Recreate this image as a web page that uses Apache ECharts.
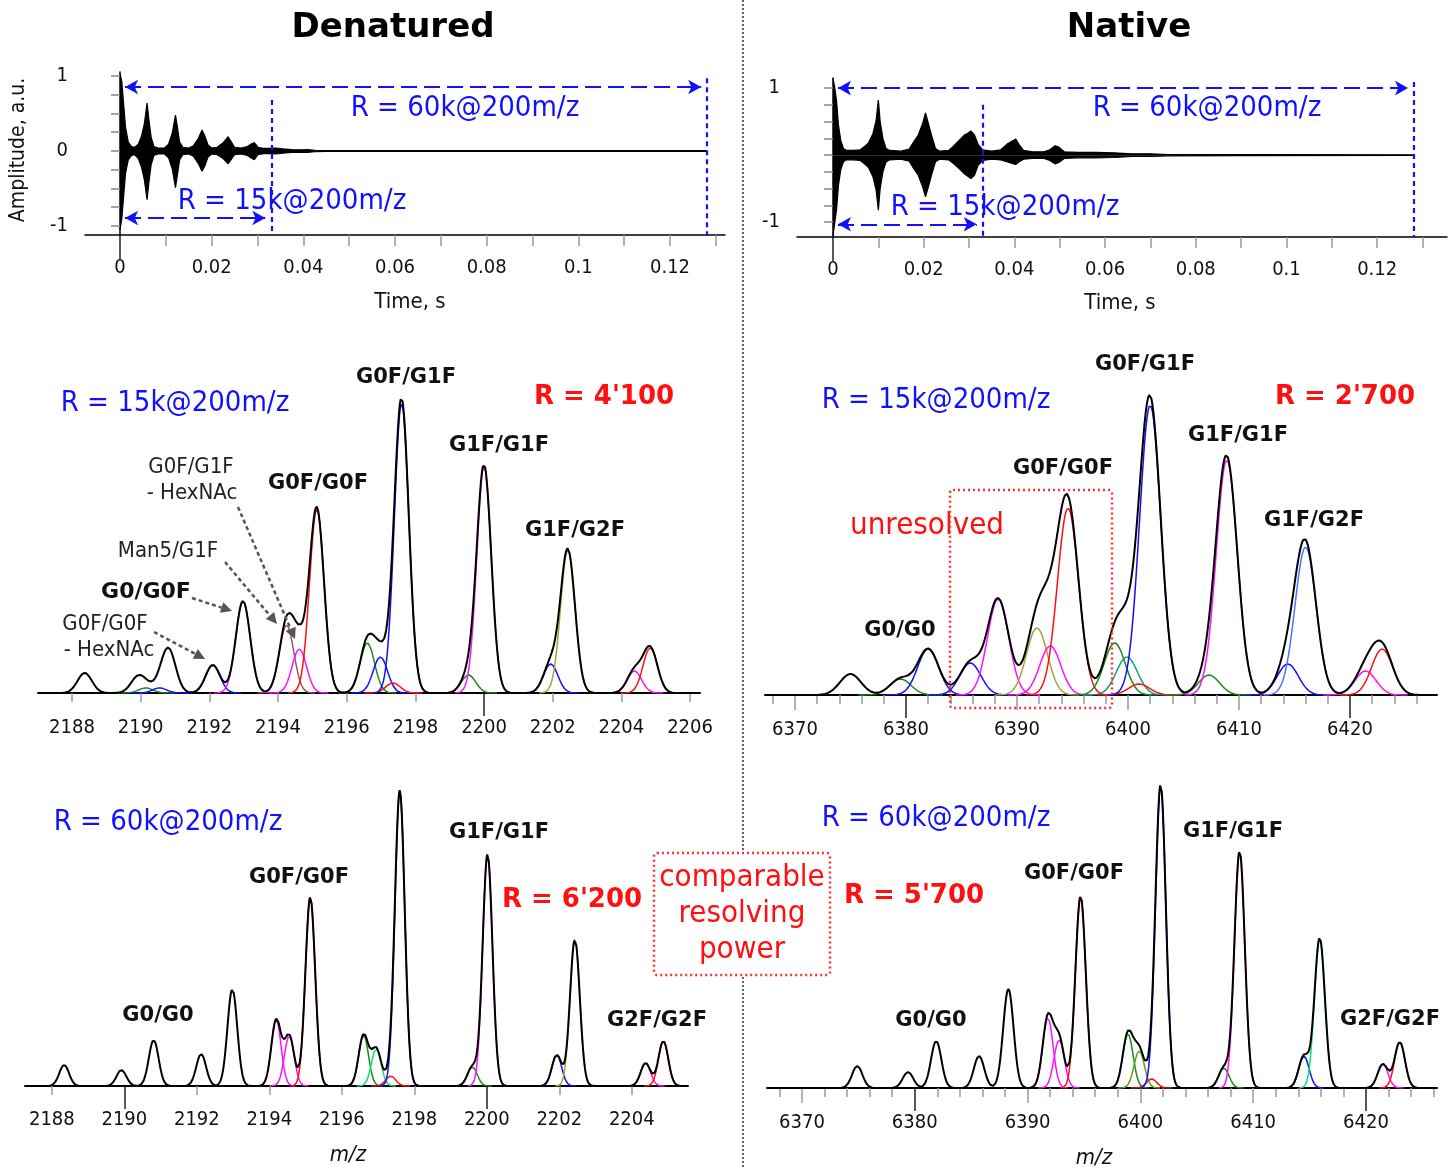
<!DOCTYPE html>
<html>
<head>
<meta charset="utf-8">
<title>Denatured vs Native</title>
<script src="https://cdn.jsdelivr.net/npm/echarts@6/dist/echarts.min.js"></script>
<style>
  html, body { margin: 0; padding: 0; background: #fff; }
  #chart { width: 1456px; height: 1168px; }
</style>
</head>
<body>
<div id="chart"></div>
<script>
// ---- transients: envelope of the signal, [time s, amplitude] ----
const denUpper = [[0, 1.03], [0.0004, 0.92], [0.0008, 0.62], [0.0012, 0.32], [0.0018, 0.12], [0.0025, 0.06], [0.0032, 0.05], [0.004, 0.09], [0.0047, 0.2], [0.0053, 0.36], [0.0059, 0.64], [0.0063, 0.42], [0.0068, 0.18], [0.0074, 0.06], [0.0083, 0.04], [0.0097, 0.04], [0.0106, 0.09], [0.0114, 0.24], [0.0121, 0.48], [0.0125, 0.33], [0.013, 0.12], [0.0137, 0.05], [0.015, 0.04], [0.016, 0.07], [0.0171, 0.17], [0.0179, 0.28], [0.0185, 0.2], [0.0192, 0.08], [0.02, 0.04], [0.0212, 0.05], [0.0225, 0.11], [0.0236, 0.19], [0.0243, 0.12], [0.025, 0.05], [0.0264, 0.04], [0.0278, 0.06], [0.0288, 0.1], [0.0293, 0.11], [0.0301, 0.05], [0.0313, 0.035], [0.0325, 0.035], [0.034, 0.04], [0.0355, 0.03], [0.0375, 0.018], [0.0395, 0.015], [0.041, 0.018], [0.0425, 0.01], [0.045, 0.006], [0.128, 0.004]]
const denLower = [[0, -1.05], [0.0004, -0.9], [0.0008, -0.6], [0.0012, -0.3], [0.0018, -0.12], [0.0025, -0.06], [0.0032, -0.05], [0.004, -0.1], [0.0047, -0.22], [0.0053, -0.38], [0.0059, -0.65], [0.0063, -0.42], [0.0068, -0.18], [0.0074, -0.06], [0.0083, -0.04], [0.0097, -0.04], [0.0106, -0.09], [0.0114, -0.24], [0.0121, -0.49], [0.0125, -0.33], [0.013, -0.12], [0.0137, -0.05], [0.015, -0.04], [0.016, -0.07], [0.0171, -0.17], [0.0179, -0.27], [0.0185, -0.2], [0.0192, -0.08], [0.02, -0.04], [0.0212, -0.05], [0.0225, -0.1], [0.0236, -0.17], [0.0243, -0.11], [0.025, -0.05], [0.0264, -0.04], [0.0278, -0.06], [0.0288, -0.1], [0.0293, -0.115], [0.0301, -0.05], [0.0313, -0.035], [0.0325, -0.035], [0.034, -0.04], [0.0355, -0.03], [0.0375, -0.018], [0.0395, -0.015], [0.041, -0.018], [0.0425, -0.01], [0.045, -0.006], [0.128, -0.004]]
const natUpper = [[0, 1.14], [0.0004, 1.0], [0.0008, 0.8], [0.0012, 0.45], [0.0017, 0.22], [0.0023, 0.1], [0.003, 0.07], [0.0045, 0.07], [0.006, 0.08], [0.0068, 0.12], [0.0078, 0.18], [0.0088, 0.32], [0.0095, 0.52], [0.01, 0.82], [0.0104, 0.5], [0.011, 0.25], [0.0117, 0.1], [0.0125, 0.07], [0.015, 0.06], [0.0168, 0.09], [0.0178, 0.2], [0.0188, 0.3], [0.0198, 0.48], [0.0204, 0.63], [0.021, 0.48], [0.0218, 0.28], [0.0226, 0.1], [0.0235, 0.06], [0.0255, 0.07], [0.0265, 0.13], [0.0278, 0.22], [0.029, 0.3], [0.0298, 0.33], [0.0304, 0.36], [0.0312, 0.3], [0.032, 0.16], [0.033, 0.08], [0.035, 0.06], [0.037, 0.08], [0.0385, 0.17], [0.0398, 0.22], [0.0403, 0.24], [0.041, 0.16], [0.042, 0.07], [0.044, 0.05], [0.0465, 0.05], [0.0478, 0.08], [0.049, 0.14], [0.0498, 0.12], [0.051, 0.05], [0.054, 0.04], [0.058, 0.04], [0.062, 0.035], [0.066, 0.02], [0.07, 0.02], [0.074, 0.01], [0.09, 0.008], [0.128, 0.004]]
const natLower = [[0, -1.2], [0.0004, -1.0], [0.0008, -0.8], [0.0012, -0.45], [0.0017, -0.22], [0.0023, -0.1], [0.003, -0.07], [0.0045, -0.07], [0.006, -0.08], [0.0068, -0.12], [0.0078, -0.18], [0.0088, -0.32], [0.0095, -0.52], [0.01, -0.82], [0.0104, -0.5], [0.011, -0.25], [0.0117, -0.1], [0.0125, -0.07], [0.015, -0.06], [0.0168, -0.09], [0.0178, -0.2], [0.0188, -0.3], [0.0198, -0.48], [0.0204, -0.62], [0.021, -0.48], [0.0218, -0.28], [0.0226, -0.1], [0.0235, -0.06], [0.0255, -0.07], [0.0265, -0.12], [0.0278, -0.2], [0.029, -0.28], [0.0298, -0.32], [0.0304, -0.35], [0.0312, -0.3], [0.032, -0.15], [0.033, -0.08], [0.035, -0.06], [0.037, -0.07], [0.0385, -0.1], [0.0398, -0.13], [0.0403, -0.14], [0.041, -0.1], [0.042, -0.06], [0.044, -0.05], [0.0465, -0.05], [0.0478, -0.08], [0.049, -0.13], [0.0498, -0.11], [0.051, -0.05], [0.054, -0.04], [0.058, -0.04], [0.062, -0.035], [0.066, -0.02], [0.07, -0.02], [0.074, -0.01], [0.09, -0.008], [0.128, -0.004]]

// transient lengths (s)
const len15k = 0.033
const len60k = 0.128

// ---- spectra: fitted peaks (m/z, intensity, component colour) ----
const den15Mz = [2188.37, 2189.92, 2190.15, 2190.55, 2190.81, 2192.10, 2192.98, 2194.25, 2194.62, 2195.13, 2196.60, 2196.98, 2197.35, 2197.60, 2199.55, 2200.00, 2201.94, 2202.44, 2204.38, 2204.84]
const den15Int = [20, 15, 5, 5, 43, 28, 92, 68, 44, 184, 50, 36, 10, 290, 18, 227, 29, 143, 22, 45]
const den15Col = ['black', 'black', 'green', 'blue', 'black', 'blue', 'magenta', 'maroon', 'magenta', 'red', 'green', 'blue', 'red', 'blue', 'green', 'magenta', 'blue', 'olive', 'magenta', 'red']

const nat15Mz = [6375.0, 6379.5, 6382.0, 6385.8, 6388.3, 6391.8, 6393.0, 6394.6, 6398.8, 6399.9, 6401.0, 6402.0, 6407.3, 6408.9, 6414.4, 6416.0, 6421.4, 6422.9]
const nat15Int = [21, 16, 46, 32, 96, 67, 49, 187, 52, 38, 11, 290, 20, 235, 31, 148, 24, 46]
const nat15Col = ['black', 'green', 'blue', 'blue', 'magenta', 'olive', 'magenta', 'red', 'green', 'teal', 'red', 'blue', 'green', 'magenta', 'blue', 'lightblue', 'magenta', 'red']

const den60Mz = [2188.34, 2189.92, 2190.81, 2192.12, 2192.98, 2194.19, 2194.55, 2195.13, 2196.60, 2196.95, 2197.35, 2197.60, 2199.60, 2200.02, 2201.93, 2202.43, 2204.38, 2204.87]
const den60Int = [21, 16, 46, 32, 97, 66, 50, 189, 51, 37, 10, 294, 19, 232, 31, 147, 23, 45]
const den60Col = ['black', 'black', 'black', 'black', 'black', 'magenta', 'magenta', 'red', 'green', 'lime', 'red', 'blue', 'green', 'magenta', 'blue', 'olive', 'magenta', 'red']

const nat60Mz = [6374.9, 6379.4, 6381.9, 6385.7, 6388.3, 6391.8, 6392.8, 6394.7, 6398.9, 6399.9, 6401.0, 6401.8, 6407.4, 6408.8, 6414.5, 6415.9, 6421.5, 6423.0]
const nat60Int = [22, 16, 47, 32, 99, 70, 48, 192, 54, 37, 9, 302, 20, 237, 32, 150, 24, 46]
const nat60Col = ['black', 'black', 'black', 'black', 'black', 'magenta', 'magenta', 'red', 'green', 'olivegreen', 'red', 'blue', 'green', 'magenta', 'blue', 'lime', 'magenta', 'red']

// peak width (sigma, m/z) of each acquisition
const den15Sigma = 0.21
const nat15Sigma = 0.95
const den60Sigma = 0.135
const nat60Sigma = 0.46

// ---- tick labels ----
const timeLabels = [0, 0.02, 0.04, 0.06, 0.08, 0.1, 0.12]
const timeTicks = [0.01, 0.02, 0.03, 0.04, 0.05, 0.06, 0.07, 0.08, 0.09, 0.1, 0.11, 0.12, 0.13]
const ampTicks = [-1, -0.75, -0.5, -0.25, 0, 0.25, 0.5, 0.75, 1]
const denMzLabels15 = [2188, 2190, 2192, 2194, 2196, 2198, 2200, 2202, 2204, 2206]
const denMzLabels60 = [2188, 2190, 2192, 2194, 2196, 2198, 2200, 2202, 2204]
const natMzLabels = [6370, 6380, 6390, 6400, 6410, 6420]
const natMzMinor = [6368, 6372, 6374, 6376, 6378, 6382, 6384, 6386, 6388, 6392, 6394, 6396, 6398, 6402, 6404, 6406, 6408, 6412, 6414, 6416, 6418, 6422, 6424, 6426]

const palette = {
  black: '#000000',
  blue: '#1010ff',
  green: '#1b8a1b',
  magenta: '#ff10ff',
  red: '#ff1010',
  maroon: '#a0525a',
  olive: '#a8a040',
  teal: '#10a080',
  lime: '#10e070',
  lightblue: '#5070ff',
  olivegreen: '#60a020'
}

const FONT = "'DejaVu Sans', Verdana, sans-serif"
const FONT_C = "'DejaVu Sans Condensed', 'DejaVu Sans', sans-serif"

function sumCurve (mz, inten, sigma, from, to, step) {
  const pts = []
  const n = Math.round((to - from) / step)
  for (let k = 0; k <= n; k++) {
    const x = from + k * step
    let y = 0
    for (let i = 0; i < mz.length; i++) {
      const d = x - mz[i]
      y += inten[i] * Math.exp(-d * d / (2 * sigma * sigma))
    }
    pts.push([x, y])
  }
  return pts
}

const xAxes = []
const yAxes = []
const series = []

function tickAxis (gi, min, max, ticks, len, color, width) {
  xAxes.push({
    type: 'value', gridIndex: gi, min: min, max: max, position: 'bottom',
    axisLine: { show: false, onZero: false },
    axisTick: { show: true, customValues: ticks, length: len, lineStyle: { color: color, width: width } },
    axisLabel: { show: false },
    splitLine: { show: false }
  })
}

function mainXAxis (gi, min, max, labels, margin, lineWidth) {
  xAxes.push({
    type: 'value', gridIndex: gi, min: min, max: max, position: 'bottom',
    axisLine: { show: true, onZero: false, lineStyle: { color: '#000', width: lineWidth } },
    axisTick: { show: false },
    axisLabel: {
      show: true, customValues: labels, margin: margin, fontSize: 20, color: '#111', fontFamily: FONT_C,
      formatter: function (v) { return String(v) }
    },
    splitLine: { show: false }
  })
  return xAxes.length - 1
}

function spectrumPanel (gi, min, max, labels, grayTicks, longTicks, darkTicks, margin, mz, inten, col, sigma, step) {
  const xi = mainXAxis(gi, min, max, labels, margin, 2)
  if (grayTicks.length) tickAxis(gi, min, max, grayTicks, 9, '#999', 1.5)
  if (longTicks.length) tickAxis(gi, min, max, longTicks, 15, '#999', 1.5)
  if (darkTicks.length) tickAxis(gi, min, max, darkTicks, 23, '#222', 1.5)
  yAxes.push({ type: 'value', gridIndex: gi, min: 0, max: 310, show: false })
  const yi = yAxes.length - 1
  for (let i = 0; i < mz.length; i++) {
    if (col[i] === 'black') continue
    const pts = []
    const n = 80
    for (let k = 0; k <= n; k++) {
      const x = mz[i] - 4 * sigma + k * 8 * sigma / n
      const d = x - mz[i]
      pts.push([x, inten[i] * Math.exp(-d * d / (2 * sigma * sigma))])
    }
    series.push({
      type: 'line', xAxisIndex: xi, yAxisIndex: yi, data: pts, showSymbol: false, silent: true,
      lineStyle: { color: palette[col[i]], width: 1.5 }, z: 2
    })
  }
  series.push({
    type: 'line', xAxisIndex: xi, yAxisIndex: yi, data: sumCurve(mz, inten, sigma, min, max, step),
    showSymbol: false, silent: true, lineStyle: { color: '#000', width: 2 }, z: 3
  })
}

function transientPanel (gi, xmin, xmax, ymin, ymax, ampLabels, upper, lower, arrowTop, arrowBottom, topLine15, topLine60) {
  const xi = mainXAxis(gi, xmin, xmax, timeLabels, 23, 1.5)
  tickAxis(gi, xmin, xmax, timeTicks, 11, '#999', 1.5)
  tickAxis(gi, xmin, xmax, [0], 24, '#222', 1.5)
  yAxes.push({
    type: 'value', gridIndex: gi, min: ymin, max: ymax,
    axisLine: { show: true, lineStyle: { color: '#000', width: 1.5 } },
    axisTick: { show: true, customValues: ampTicks, length: 9, lineStyle: { color: '#888', width: 1.5 } },
    axisLabel: {
      show: true, customValues: ampLabels, margin: 17, fontSize: 20, color: '#111', fontFamily: FONT_C,
      formatter: function (v) { return String(v) }
    },
    splitLine: { show: false }
  })
  const yi = yAxes.length - 1
  const blue = { color: '#1010ff', width: 2.2 }
  series.push({
    type: 'line', xAxisIndex: xi, yAxisIndex: yi, data: upper, showSymbol: false, silent: true,
    lineStyle: { color: '#000', width: 1.2 }, areaStyle: { color: '#000', opacity: 1, origin: 0 },
    markLine: {
      silent: true, symbol: ['arrow', 'arrow'], symbolSize: [11, 13], label: { show: false },
      lineStyle: Object.assign({ type: [16, 7] }, blue),
      data: [
        [{ coord: [0.0011, arrowTop] }, { coord: [len60k - 0.0012, arrowTop] }],
        [{ coord: [0.0011, arrowBottom] }, { coord: [len15k - 0.0013, arrowBottom] }]
      ]
    }
  })
  series.push({
    type: 'line', xAxisIndex: xi, yAxisIndex: yi, data: lower, showSymbol: false, silent: true,
    lineStyle: { color: '#000', width: 1.2 }, areaStyle: { color: '#000', opacity: 1, origin: 0 },
    markLine: {
      silent: true, symbol: 'none', label: { show: false },
      lineStyle: Object.assign({ type: [5, 4] }, blue),
      data: [
        [{ coord: [len15k, topLine15] }, { coord: [len15k, ymin] }],
        [{ coord: [len60k, topLine60] }, { coord: [len60k, ymin] }]
      ]
    }
  })
}

// grids in layout order
const grids = [
  { left: 85, top: 72, width: 640, height: 163 },
  { left: 797, top: 78, width: 650, height: 159 },
  { left: 38, top: 383, width: 662, height: 310 },
  { left: 765, top: 385, width: 672, height: 310 },
  { left: 25, top: 776, width: 663, height: 310 },
  { left: 767, top: 778, width: 670, height: 310 }
]

transientPanel(0, -0.00764, 0.1320, -1.12, 1.053, [-1, 0, 1], denUpper, denLower, 0.853, -0.893, 0.68, 0.97)
transientPanel(1, -0.00794, 0.1354, -1.22, 1.15, [-1, 1], natUpper, natLower, 1.0, -1.03, 0.75, 1.09)
spectrumPanel(2, 2187.01, 2206.29, denMzLabels15, [2188, 2190, 2192, 2194, 2196, 2198, 2202, 2204, 2206], [], [2200], 25, den15Mz, den15Int, den15Col, den15Sigma, 0.02)
spectrumPanel(3, 6367.3, 6427.84, natMzLabels, natMzMinor, [6370, 6390, 6400, 6410], [6380, 6420], 25, nat15Mz, nat15Int, nat15Col, nat15Sigma, 0.1)
spectrumPanel(4, 2187.26, 2205.55, denMzLabels60, [2188, 2192, 2194, 2196, 2198, 2202, 2204], [], [2190, 2200], 24, den60Mz, den60Int, den60Col, den60Sigma, 0.015)
spectrumPanel(5, 6366.9, 6426.3, natMzLabels, natMzMinor, [6370, 6390, 6400, 6410], [6380, 6420], 25, nat60Mz, nat60Int, nat60Col, nat60Sigma, 0.05)

// ---- annotations ----
function txt (s, x, y, size, color, weight, extra, family) {
  const el = {
    type: 'text', x: x, y: y, silent: true, z: 10,
    style: { text: s, fill: color, align: 'center', verticalAlign: 'middle', font: (weight || 'normal') + ' ' + size + 'px ' + (family || FONT_C) }
  }
  return Object.assign(el, extra || {})
}

function bold (s, x, y, size, color) {
  return txt(s, x, y, size, color, 'bold', null, FONT)
}

function arrow (x1, y1, x2, y2) {
  const a = Math.atan2(y2 - y1, x2 - x1)
  const hl = 11
  const hw = 5.5
  const bx = x2 - hl * Math.cos(a)
  const by = y2 - hl * Math.sin(a)
  return [
    { type: 'line', silent: true, z: 10, shape: { x1: x1, y1: y1, x2: bx, y2: by }, style: { stroke: '#555', lineWidth: 2.5, lineDash: [4, 3] } },
    {
      type: 'polygon', silent: true, z: 10,
      shape: { points: [[x2, y2], [bx - hw * Math.sin(a), by + hw * Math.cos(a)], [bx + hw * Math.sin(a), by - hw * Math.cos(a)]] },
      style: { fill: '#555' }
    }
  ]
}

const blueC = '#1010ff'
const redC = '#ff1010'
const graphic = [
  bold('Denatured', 393, 28, 34, '#000'),
  bold('Native', 1129, 28, 34, '#000'),
  txt('Amplitude, a.u.', 19, 150, 21, '#111', 'normal', { rotation: Math.PI / 2 }),
  txt('Time, s', 410, 302, 22, '#111'),
  txt('Time, s', 1120, 303, 22, '#111'),
  txt('R = 60k@200m/z', 465, 108, 29, blueC),
  txt('R = 15k@200m/z', 292, 201, 29, blueC),
  txt('R = 60k@200m/z', 1207, 108, 29, blueC),
  txt('R = 15k@200m/z', 1005, 207, 29, blueC),

  bold('G0F/G1F', 406, 378, 21, '#111'),
  txt('R = 15k@200m/z', 175, 403, 29, blueC),
  bold("R = 4'100", 604, 397, 26, redC),
  bold('G1F/G1F', 499, 446, 21, '#111'),
  txt('G0F/G1F', 191, 467, 22, '#222'),
  txt('- HexNAc', 192, 493, 22, '#222'),
  bold('G0F/G0F', 318, 484, 21, '#111'),
  bold('G1F/G2F', 575, 531, 21, '#111'),
  txt('Man5/G1F', 168, 551, 22, '#222'),
  bold('G0/G0F', 146, 592, 22, '#111'),
  txt('G0F/G0F', 105, 624, 22, '#222'),
  txt('- HexNAc', 109, 650, 22, '#222'),

  bold('G0F/G1F', 1145, 365, 21, '#111'),
  txt('R = 15k@200m/z', 936, 400, 29, blueC),
  bold("R = 2'700", 1345, 397, 26, redC),
  bold('G1F/G1F', 1238, 436, 21, '#111'),
  bold('G0F/G0F', 1063, 469, 21, '#111'),
  bold('G1F/G2F', 1314, 521, 21, '#111'),
  bold('G0/G0', 900, 631, 21, '#111'),
  txt('unresolved', 927, 526, 31, redC),

  txt('R = 60k@200m/z', 168, 822, 29, blueC),
  bold('G1F/G1F', 499, 833, 21, '#111'),
  bold('G0F/G0F', 299, 878, 21, '#111'),
  bold("R = 6'200", 572, 900, 26, redC),
  bold('G0/G0', 158, 1016, 21, '#111'),
  bold('G2F/G2F', 657, 1021, 21, '#111'),
  txt('m/z', 348, 1155, 22, '#111', 'italic'),

  txt('R = 60k@200m/z', 936, 818, 29, blueC),
  bold('G1F/G1F', 1233, 832, 21, '#111'),
  bold("R = 5'700", 914, 896, 26, redC),
  bold('G0F/G0F', 1074, 874, 21, '#111'),
  bold('G0/G0', 931, 1021, 21, '#111'),
  bold('G2F/G2F', 1390, 1020, 21, '#111'),
  txt('m/z', 1094, 1158, 22, '#111', 'italic'),

  txt('comparable', 742, 878, 31, redC),
  txt('resolving', 742, 914, 31, redC),
  txt('power', 742, 950, 31, redC),
  { type: 'rect', silent: true, z: 10, shape: { x: 654, y: 853, width: 176, height: 122, r: 3 }, style: { fill: 'none', stroke: '#ff3030', lineWidth: 2.5, lineDash: [2, 3] } },
  { type: 'rect', silent: true, z: 10, shape: { x: 950, y: 490, width: 162, height: 218, r: 3 }, style: { fill: 'none', stroke: '#ff3030', lineWidth: 2.5, lineDash: [2, 3] } },
  { type: 'line', silent: true, z: 10, shape: { x1: 743, y1: 0, x2: 743, y2: 852 }, style: { stroke: '#333', lineWidth: 1.5, lineDash: [2, 2] } },
  { type: 'line', silent: true, z: 10, shape: { x1: 743, y1: 977, x2: 743, y2: 1168 }, style: { stroke: '#333', lineWidth: 1.5, lineDash: [2, 2] } }
].concat(
  arrow(192, 598, 232, 611),
  arrow(154, 632, 205, 659),
  arrow(225, 562, 277, 624),
  arrow(238, 507, 295, 639)
)

const myChart = echarts.init(document.getElementById('chart'), null, { renderer: 'canvas' })
const option = {
  animation: false,
  backgroundColor: '#fff',
  grid: grids,
  xAxis: xAxes,
  yAxis: yAxes,
  series: series,
  graphic: graphic
}
myChart.setOption(option)
</script>
</body>
</html>
